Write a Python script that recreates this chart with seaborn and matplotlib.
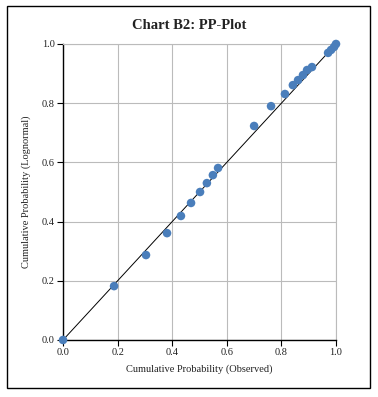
import numpy as np
import pandas as pd
import seaborn as sns
import matplotlib.pyplot as plt
from matplotlib.patches import Rectangle

# PP-plot points
observed = [0.0, 0.187, 0.304, 0.381, 0.432, 0.469, 0.502, 0.527, 0.549, 0.568,
            0.700, 0.762, 0.813, 0.842, 0.861, 0.879, 0.894, 0.912,
            0.971, 0.982, 0.993, 1.0]
lognormal = [0.0, 0.182, 0.287, 0.361, 0.419, 0.463, 0.500, 0.530, 0.557, 0.581,
             0.723, 0.790, 0.831, 0.861, 0.878, 0.895, 0.912, 0.922,
             0.970, 0.980, 0.990, 1.0]
ticks = [0.0, 0.2, 0.4, 0.6, 0.8, 1.0]

df = pd.DataFrame({"Observed": observed, "Lognormal": lognormal})

sns.set_theme(style="whitegrid")
plt.rcParams["font.family"] = ["Liberation Serif", "DejaVu Serif"]

fig = plt.figure(figsize=(3.78, 3.97), dpi=100)
ax = fig.add_axes([0.1667, 0.1436, 0.7222, 0.7456])

ax.plot([0, 1], [0, 1], color="black", lw=0.7, zorder=2)
sns.scatterplot(data=df, x="Observed", y="Lognormal", ax=ax, color="#4a7ebb",
                s=38, edgecolor="none", zorder=3, clip_on=False)

ax.set_xlim(0, 1)
ax.set_ylim(0, 1)
ax.set_xticks(ticks)
ax.set_yticks(ticks)
ax.set_xticklabels([f"{t:.1f}" for t in ticks], fontsize=7.5, color="#222222")
ax.set_yticklabels([f"{t:.1f}" for t in ticks], fontsize=7.5, color="#222222")
ax.grid(True, color="#bbbbbb", lw=0.8)
ax.tick_params(axis="both", length=4, width=0.8, color="black", pad=2,
               direction="out", bottom=True, left=True)
for side in ["top", "right"]:
    ax.spines[side].set_color("#bbbbbb")
    ax.spines[side].set_linewidth(0.8)
for side in ["left", "bottom"]:
    ax.spines[side].set_color("black")
    ax.spines[side].set_linewidth(1.0)

ax.set_xlabel("Cumulative Probability (Observed)", fontsize=7.5, color="#222222", labelpad=5)
ax.set_ylabel("Cumulative Probability (Lognormal)", fontsize=7.5, color="#222222", labelpad=8)
fig.text(0.5, 0.935, "Chart B2: PP-Plot", ha="center", va="center",
         fontsize=10.5, fontweight="bold", color="#222222")

# outer frame
fig.patches.append(Rectangle((7 / 378, 9 / 397), 363 / 378, 382 / 397,
                             transform=fig.transFigure, fill=False,
                             edgecolor="black", lw=1.0))

fig.savefig("out.png", dpi=100)
